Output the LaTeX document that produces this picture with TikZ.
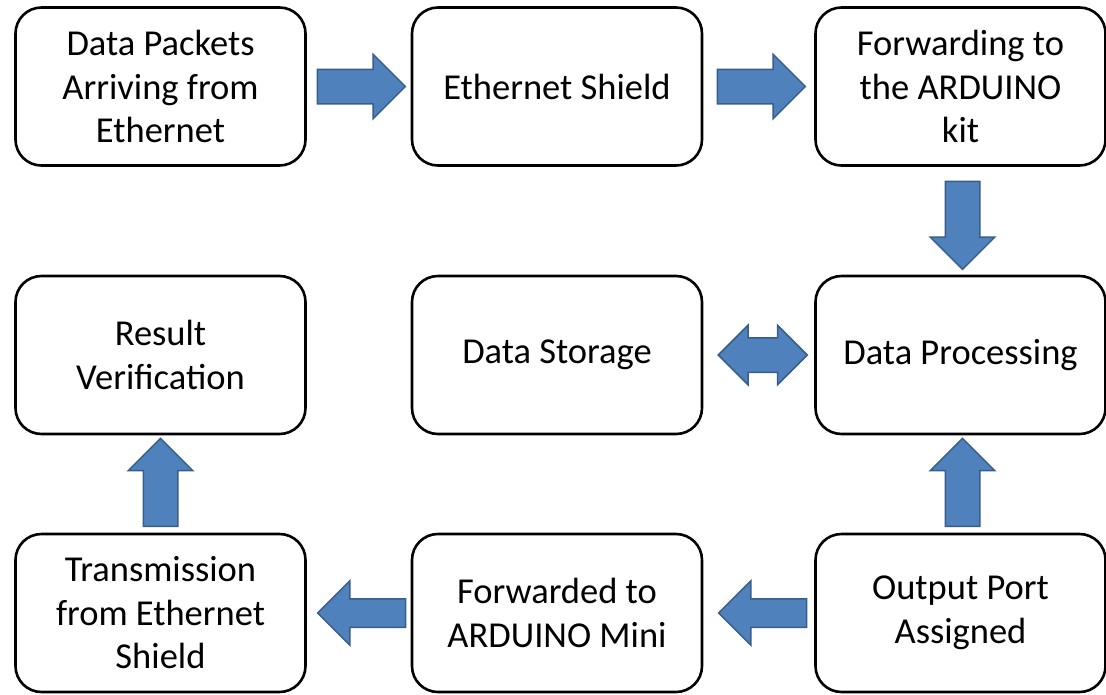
\documentclass[tikz,border=0pt]{standalone}
\usepackage{fontspec}
\setmainfont{Carlito}
\usetikzlibrary{shapes.arrows,calc}
\definecolor{arrfill}{HTML}{4F81BD}
\definecolor{arrline}{HTML}{385D8A}

\begin{document}
\begin{tikzpicture}[x=1pt,y=-1pt,
	box/.style={draw,line width=2.6pt,rounded corners=26pt,minimum width=290pt,minimum height=158pt,align=center,font=\fontsize{36.5}{43.5}\selectfont},
	blk/.style={single arrow,fill=arrfill,draw=arrline,line width=1.5pt,inner sep=16.5pt,minimum height=88pt,single arrow head extend=15pt},
	thinblk/.style={blk,inner sep=13.5pt,single arrow head extend=18pt},
	dblblk/.style={double arrow,fill=arrfill,draw=arrline,line width=1.5pt,inner sep=16.5pt,minimum height=89pt,double arrow head extend=12.5pt}]
	\useasboundingbox (0,0) rectangle (1106,694);
	% boxes
	\node[box] (pkt) at (160.5,86.5) {Data Packets\\Arriving from\\Ethernet};
	\node[box] (shield) at (557,86.5) {Ethernet Shield};
	\node[box] (fwd) at (960.5,86.5) {Forwarding to\\the ARDUINO\\kit};
	\node[box] (result) at (160.5,355) {Result\\Verification};
	\node[box] (storage) at (557,355) {Data Storage};
	\node[box] (proc) at (960.5,355) {Data Processing};
	\node[box] (trans) at (160.5,613) {Transmission\\from Ethernet\\Shield};
	\node[box] (mini) at (557,613) {Forwarded to\\ARDUINO Mini};
	\node[box] (port) at (960.5,613) {Output Port\\Assigned};
	% block arrows
	\node[blk] (a1) at ($(pkt.east)!.5!(shield.west)+(-6,0)$) {};
	\node[blk] (a2) at ($(shield.east)!.5!(fwd.west)+(-6,0)$) {};
	\node[blk,shape border rotate=270] (a3) at ($(fwd.south)!.5!(proc.north)+(2,-4)$) {};
	\node[dblblk] (a4) at ($(storage.east)!.5!(proc.west)+(4,0)$) {};
	\node[blk,shape border rotate=90] (a5) at ($(proc.south)!.5!(port.north)+(2,7)$) {};
	\node[thinblk,shape border rotate=180] (a6) at ($(mini.east)!.5!(port.west)+(11,0)$) {};
	\node[thinblk,shape border rotate=180] (a7) at ($(trans.east)!.5!(mini.west)+(10,0)$) {};
	\node[blk,shape border rotate=90] (a8) at ($(trans.north)!.5!(result.south)+(0,7)$) {};
\end{tikzpicture}
\end{document}
